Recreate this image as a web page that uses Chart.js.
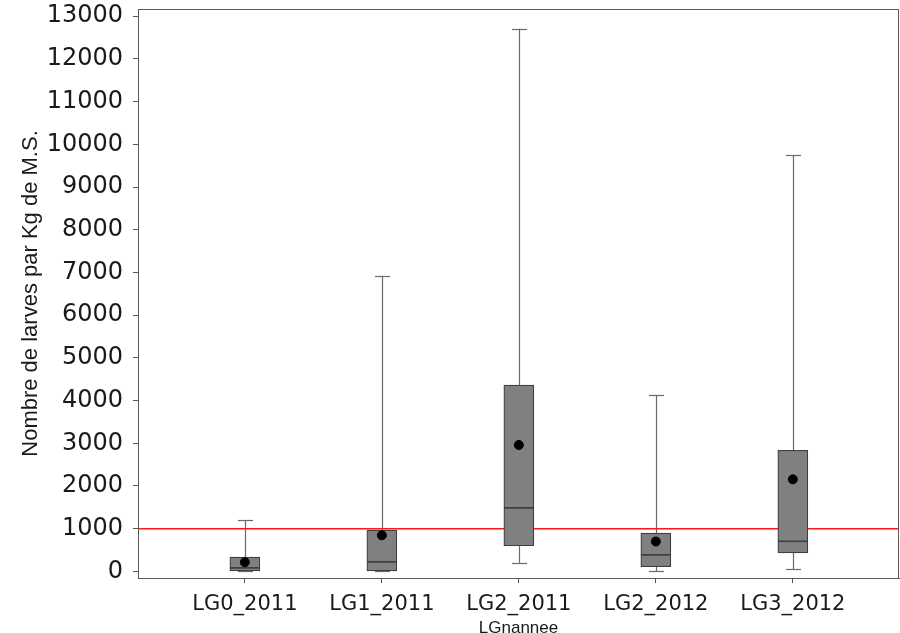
<!DOCTYPE html>
<html>
<head>
<meta charset="utf-8">
<title>Nombre de larves par Kg de M.S.</title>
<script src="https://cdn.jsdelivr.net/npm/chart.js@4"></script>
<style>
  html, body { margin: 0; padding: 0; background: #fff; }
  #chart { display: block; }
</style>
</head>
<body>
<canvas id="chart" width="900" height="633"></canvas>
<script>
// Boxplot – larves par Kg de M.S. selon LGnannee
var CATEGORIES   = ['LG0_2011', 'LG1_2011', 'LG2_2011', 'LG2_2012', 'LG3_2012'];
var WHISKER_LOW  = [0,    0,    200,   0,    45];
var Q1           = [0,    10,   600,   110,  435];
var MEDIAN       = [80,   220,  1490,  385,  705];
var Q3           = [335,  965,  4360,  895,  2835];
var WHISKER_HIGH = [1200, 6920, 12710, 4130, 9745];
var MEANS        = [215,  845,  2960,  700,  2155];
var THRESHOLD    = 1000;
var Y_TICKS      = [0, 1000, 2000, 3000, 4000, 5000, 6000, 7000, 8000, 9000, 10000, 11000, 12000, 13000];

var X_MIN = -0.78, X_MAX = 4.775;
var Y_MIN = -155,  Y_MAX = 13170;

function boxData(lo, hi) {
  return CATEGORIES.map(function (c, i) { return { x: i, y: [lo[i], hi[i]] }; });
}

// whiskers + caps, then frame round the plot
var boxExtras = {
  id: 'boxExtras',
  beforeDatasetsDraw: function (chart) {
    var ctx = chart.ctx, xs = chart.scales.x, ys = chart.scales.y;
    ctx.save();
    ctx.strokeStyle = '#6a6a6a';
    ctx.lineWidth = 1.2;
    CATEGORIES.forEach(function (c, i) {
      var px = Math.round(xs.getPixelForValue(i)) + 0.5;
      var segs = [[WHISKER_LOW[i], Q1[i]], [Q3[i], WHISKER_HIGH[i]]];
      segs.forEach(function (s) {
        ctx.beginPath();
        ctx.moveTo(px, ys.getPixelForValue(s[0]));
        ctx.lineTo(px, ys.getPixelForValue(s[1]));
        ctx.stroke();
      });
      [WHISKER_LOW[i], WHISKER_HIGH[i]].forEach(function (v) {
        var py = Math.round(ys.getPixelForValue(v)) + 0.5;
        ctx.beginPath();
        ctx.moveTo(px - 7.5, py);
        ctx.lineTo(px + 7.5, py);
        ctx.stroke();
      });
    });
    ctx.restore();
  },
  afterDraw: function (chart) {
    var a = chart.chartArea, ctx = chart.ctx;
    ctx.save();
    ctx.strokeStyle = '#5a5a5a';
    ctx.lineWidth = 1;
    ctx.strokeRect(Math.round(a.left) + 0.5, Math.round(a.top) + 0.5,
                   Math.round(a.right - a.left) - 1, Math.round(a.bottom - a.top));
    ctx.restore();
  }
};

new Chart(document.getElementById('chart').getContext('2d'), {
  type: 'bar',
  data: {
    datasets: [
      {
        type: 'line',
        label: 'Seuil',
        data: [{ x: X_MIN, y: THRESHOLD }, { x: X_MAX, y: THRESHOLD }],
        borderColor: '#ff1a1a',
        borderWidth: 1.5,
        pointRadius: 0,
        order: 3
      },
      {
        label: 'Q1-Médiane',
        data: boxData(Q1, MEDIAN),
        backgroundColor: '#808080',
        borderColor: '#3f3f3f',
        borderWidth: 1.2,
        borderSkipped: false,
        barThickness: 30,
        grouped: false,
        order: 2
      },
      {
        label: 'Médiane-Q3',
        data: boxData(MEDIAN, Q3),
        backgroundColor: '#808080',
        borderColor: '#3f3f3f',
        borderWidth: 1.2,
        borderSkipped: false,
        barThickness: 30,
        grouped: false,
        order: 2
      },
      {
        type: 'scatter',
        label: 'Moyenne',
        data: MEANS.map(function (m, i) { return { x: i, y: m }; }),
        backgroundColor: '#000',
        borderColor: '#000',
        pointRadius: 4.5,
        order: 1
      }
    ]
  },
  options: {
    responsive: false,
    animation: false,
    layout: { autoPadding: false, padding: { top: 9, right: 1, left: 0, bottom: 0 } },
    plugins: { legend: { display: false }, tooltip: { enabled: false } },
    scales: {
      x: {
        type: 'linear',
        min: X_MIN,
        max: X_MAX,
        offset: false,
        afterBuildTicks: function (s) { s.ticks = CATEGORIES.map(function (c, i) { return { value: i }; }); },
        afterFit: function (s) { s.height = 55; s.paddingLeft = 0; s.paddingRight = 0; },
        grid: { drawOnChartArea: false, offset: false, tickLength: 5, color: '#555' },
        border: { color: '#5a5a5a' },
        ticks: {
          padding: 9,
          color: '#1a1a1a',
          font: { family: 'DejaVu Sans', size: 21 },
          callback: function (v) { return CATEGORIES[v]; }
        },
        title: {
          display: true,
          text: 'LGnannee',
          color: '#1a1a1a',
          padding: { top: 0, bottom: 0 },
          font: { family: 'Liberation Sans', size: 17, lineHeight: 0.6 }
        }
      },
      y: {
        min: Y_MIN,
        max: Y_MAX,
        afterBuildTicks: function (s) { s.ticks = Y_TICKS.map(function (v) { return { value: v }; }); },
        afterFit: function (s) { s.width = 138; s.paddingTop = 0; s.paddingBottom = 0; },
        grid: { drawOnChartArea: false, tickLength: 5, color: '#555' },
        border: { color: '#5a5a5a' },
        ticks: {
          padding: 10,
          color: '#1a1a1a',
          font: { family: 'DejaVu Sans', size: 24 },
          callback: function (v) { return String(v); }
        },
        title: {
          display: true,
          text: 'Nombre de larves par Kg de M.S.',
          color: '#1a1a1a',
          padding: { top: 18, bottom: 0 },
          font: { family: 'Liberation Sans', size: 22, lineHeight: 1.2 }
        }
      }
    }
  },
  plugins: [boxExtras]
});
</script>
</body>
</html>
